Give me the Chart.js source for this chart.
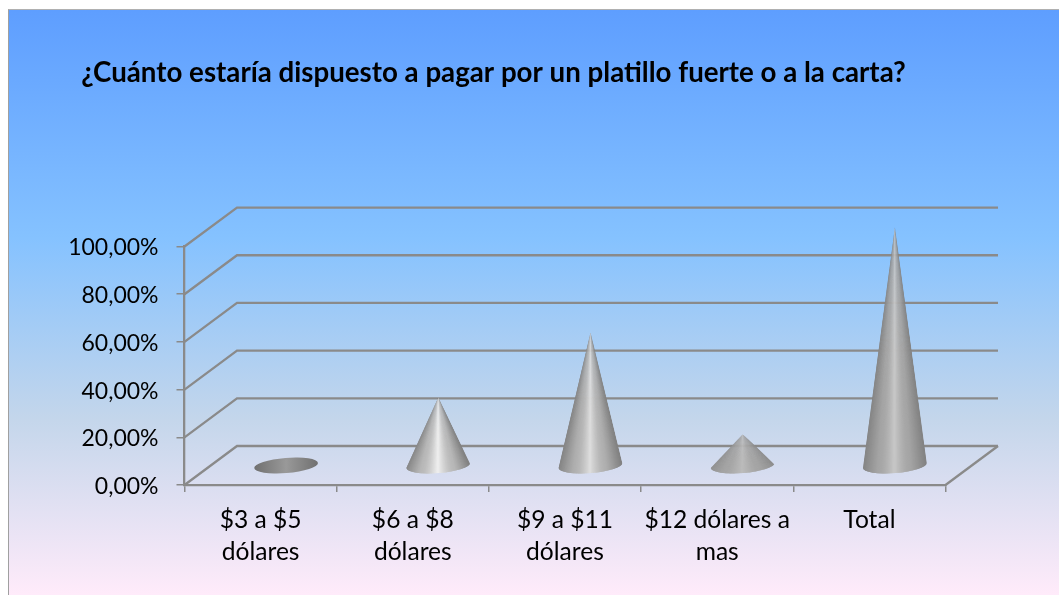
<!DOCTYPE html>
<html>
<head>
<meta charset="utf-8">
<script src="https://cdn.jsdelivr.net/npm/chart.js@4/dist/chart.umd.min.js"></script>
<style>
  html, body { margin: 0; padding: 0; background: #fff; overflow: hidden; }
  #panel {
    position: absolute; left: 8px; top: 9px; right: 0; bottom: 0;
    border-left: 1px solid #a0a0a0; border-top: 1px solid #b0b0b0;
    background: linear-gradient(to bottom, #5e9eff 0%, #85c2ff 39%, #c4d6eb 70%, #ffebfa 100%);
  }
  canvas { position: absolute; left: 0; top: 0; }
</style>
</head>
<body>
<div id="panel"></div>
<canvas id="myChart" width="1059" height="595"></canvas>
<script>
const titleText = '¿Cuánto estaría dispuesto a pagar por un platillo fuerte o a la carta?';
const categories = [['$3 a $5', 'dólares'], ['$6 a $8', 'dólares'], ['$9 a $11', 'dólares'], ['$12 dólares a', 'mas'], 'Total'];
const percentValues = [2.7, 28.5, 55.8, 13, 100];

// shading of each cone, it changes a bit along the axis in the original
const coneEdges = [112, 128, 128, 140, 130];
const coneHighlights = [153, 240, 222, 188, 200];

const depthX = 52.5;
const depthY = 39;
const baseLift = 19.5;
const ellipseRy = 7.6;
const ellipseTilt = -4.5 * Math.PI / 180;
const wallColor = '#8a8a8a';

function shade(edge, high, t) {
  // t goes from 0 on the silhouette to 1 in the middle of the cone
  const mid = edge + (high - edge) * 0.5;
  let v;
  if (t < 0.5) v = edge + (mid - edge) * (t / 0.5);
  else v = mid + (high - mid) * Math.pow((t - 0.5) / 0.5, 1.6);
  v = Math.round(v);
  return 'rgb(' + v + ',' + v + ',' + v + ')';
}

const walls3d = {
  id: 'walls3d',
  beforeDatasetsDraw(chart) {
    const { ctx, chartArea, scales } = chart;
    ctx.save();
    ctx.strokeStyle = wallColor;
    ctx.lineWidth = 2.3;
    scales.y.ticks.forEach((tick) => {
      const y = scales.y.getPixelForValue(tick.value);
      ctx.beginPath();
      ctx.moveTo(chartArea.left, y);
      ctx.lineTo(chartArea.left + depthX, y - depthY);
      ctx.lineTo(chartArea.right + depthX, y - depthY);
      ctx.stroke();
    });
    ctx.beginPath();
    ctx.moveTo(chartArea.right, chartArea.bottom);
    ctx.lineTo(chartArea.right + depthX, chartArea.bottom - depthY);
    ctx.stroke();
    ctx.restore();
  }
};

const cones = {
  id: 'cones',
  afterDatasetsDraw(chart) {
    const { ctx, scales } = chart;
    const baseY = scales.y.getPixelForValue(0) - baseLift;
    chart.getDatasetMeta(0).data.forEach((bar, i) => {
      const cx = bar.x + 25.5;
      const rx = bar.width / 2;
      const apexY = bar.y - baseLift;
      const edge = coneEdges[i];
      const high = coneHighlights[i];
      const ex = rx * Math.cos(ellipseTilt);
      const ey = rx * Math.sin(ellipseTilt);
      ctx.save();
      ctx.beginPath();
      if (baseY - apexY < ellipseRy) {
        // so low that only the base is seen
        ctx.ellipse(cx, baseY, rx, ellipseRy, ellipseTilt, 0, Math.PI * 2);
        ctx.clip();
        const g = ctx.createLinearGradient(cx - rx, 0, cx + rx, 0);
        g.addColorStop(0, shade(edge, high, 0));
        g.addColorStop(0.5, shade(edge, high, 1));
        g.addColorStop(1, shade(edge, high, 0));
        ctx.fillStyle = g;
        ctx.fillRect(cx - rx - 1, baseY - ellipseRy * 2, rx * 2 + 2, ellipseRy * 4);
        ctx.restore();
        return;
      }
      ctx.moveTo(cx, apexY);
      ctx.lineTo(cx - ex, baseY - ey);
      ctx.ellipse(cx, baseY, rx, ellipseRy, ellipseTilt, Math.PI, 0, true);
      ctx.closePath();
      ctx.clip();
      // fan of slices from the tip so the shading narrows like a real cone
      const slices = 60;
      const bottom = baseY + ellipseRy + 6;
      for (let s = 0; s < slices; s++) {
        const a = -1 + 2 * s / slices;
        const b = -1 + 2 * (s + 1) / slices;
        const t = 1 - Math.abs((a + b) / 2);
        const k = (bottom - apexY) / (baseY - apexY);
        ctx.fillStyle = shade(edge, high, t);
        ctx.beginPath();
        ctx.moveTo(cx, apexY - 1);
        ctx.lineTo(cx + a * rx * k - 0.6, bottom);
        ctx.lineTo(cx + b * rx * k + 0.6, bottom);
        ctx.closePath();
        ctx.fill();
      }
      ctx.restore();
    });
  }
};

new Chart(document.getElementById('myChart').getContext('2d'), {
  type: 'bar',
  plugins: [walls3d, cones],
  data: {
    labels: categories,
    datasets: [{
      data: percentValues,
      backgroundColor: 'transparent',
      borderWidth: 0,
      categoryPercentage: 1,
      barPercentage: 0.42
    }]
  },
  options: {
    responsive: false,
    animation: false,
    layout: { padding: { left: 41.5, right: 113.5, top: 0, bottom: 0 } },
    plugins: {
      legend: { display: false },
      tooltip: { enabled: false },
      title: {
        display: true,
        text: titleText,
        align: 'center',
        color: '#000',
        font: { family: 'Lato', size: 27.7, weight: 'bold' },
        padding: { top: 56.4, bottom: 156.9 }
      }
    },
    scales: {
      x: {
        afterFit(scale) { scale.height = 110; },
        grid: { drawOnChartArea: false, drawTicks: true, tickLength: 7, color: wallColor, lineWidth: 1.5 },
        border: { color: wallColor, width: 2.3 },
        ticks: {
          color: '#000', maxRotation: 0, autoSkip: false, padding: 12,
          font: { family: 'Lato', size: 24.6, lineHeight: 1.3 }
        }
      },
      y: {
        min: 0,
        max: 100,
        afterFit(scale) { scale.width = 143; },
        grid: { drawOnChartArea: false, drawTicks: true, tickLength: 8, color: wallColor, lineWidth: 1.5 },
        border: { color: wallColor, width: 2.3 },
        ticks: {
          stepSize: 20, color: '#000', padding: 18, labelOffset: 1.5,
          font: { family: 'Lato', size: 23 },
          callback: (v) => v.toFixed(2).replace('.', ',') + '%'
        }
      }
    }
  }
});
</script>
</body>
</html>
